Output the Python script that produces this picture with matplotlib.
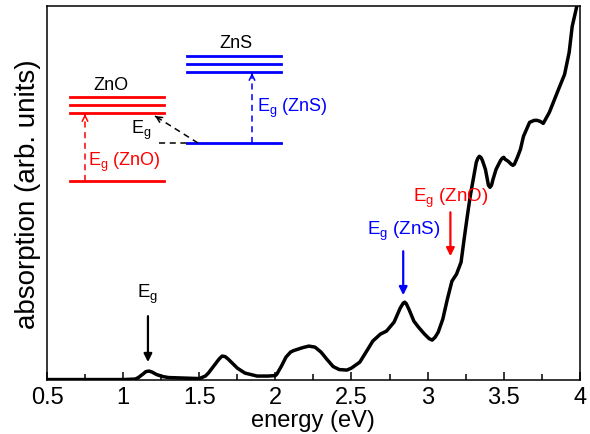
import numpy as np
import matplotlib
matplotlib.use('Agg')
import matplotlib.pyplot as plt
from matplotlib.ticker import MultipleLocator

plt.rcParams['font.family'] = ['Liberation Sans', 'DejaVu Sans']
plt.rcParams['mathtext.fontset'] = 'custom'
plt.rcParams['mathtext.rm'] = 'Liberation Sans'
plt.rcParams['mathtext.it'] = 'Liberation Sans'

# absorption spectrum (arb. units)
energy = [0.50, 0.80, 1.00, 1.08, 1.10, 1.13, 1.15, 1.17, 1.19, 1.22, 1.26,
          1.30, 1.40, 1.50,
          1.54, 1.56, 1.60, 1.63, 1.65, 1.67, 1.69, 1.72, 1.75, 1.80, 1.88,
          1.95, 2.00,
          2.01, 2.04, 2.07, 2.10, 2.12, 2.15, 2.18, 2.22, 2.26, 2.30, 2.34,
          2.38, 2.42, 2.47,
          2.50, 2.555, 2.60, 2.64, 2.69, 2.73, 2.78, 2.82, 2.84, 2.85, 2.86,
          2.88, 2.91, 2.94, 2.98, 3.01, 3.03, 3.05, 3.07, 3.10, 3.13, 3.16,
          3.19, 3.22, 3.24, 3.26, 3.28, 3.30, 3.32, 3.33, 3.34, 3.35, 3.36,
          3.38, 3.40, 3.41, 3.42, 3.43, 3.45, 3.48, 3.49, 3.50, 3.51, 3.53,
          3.55, 3.56, 3.57, 3.59, 3.61, 3.63, 3.67, 3.70, 3.72, 3.74, 3.76,
          3.80, 3.86, 3.90, 3.93, 3.95, 3.98, 4.00]
absorb = [0.5, 0.5, 0.5, 1, 2.5, 6, 8.5, 9, 8, 5.5, 3.5,
          2.5, 2, 1.5,
          4, 7, 15, 21, 24, 23.5, 21, 16.5, 12, 7, 4,
          4, 4.5,
          6, 14, 23, 28, 29.5, 31, 32.5, 34, 33, 28, 20.5,
          13.5, 10.5, 10,
          12, 18, 29, 39, 46, 49, 58, 72, 77, 78, 76.5,
          70, 59, 53, 46, 41.5, 40, 43, 48, 61, 81, 99,
          106, 118, 141, 163, 184, 201, 218, 222, 224, 223, 220,
          211, 195, 193, 195, 201, 211, 220, 222, 223, 221, 219,
          216, 215, 216, 223, 231, 244, 258, 260, 260, 259, 257,
          268, 291, 306, 328, 354, 374, 389]

# band-gap arrows on the spectrum
gap_energy = [1.163, 2.84, 3.15]
gap_label = [r'E$_\mathrm{g}$', r'E$_\mathrm{g}$ (ZnS)', r'E$_\mathrm{g}$ (ZnO)']
gap_color = ['black', 'blue', 'red']
gap_tip = [18, 85, 124]
gap_tail = [64, 129, 168]
gap_text = [75, 138, 171]

fig = plt.figure(figsize=(5.9, 4.35), dpi=100)
ax = fig.add_axes([0.0797, 0.124, 0.903, 0.861])
ax.plot(energy, absorb, color='black', lw=2.5, solid_joinstyle='round',
        solid_capstyle='round')
ax.set_xlim(0.5, 4)
ax.set_ylim(0, 375)
ax.set_yticks([])
ax.xaxis.set_major_locator(MultipleLocator(0.5))
ax.xaxis.set_minor_locator(MultipleLocator(0.25))
ax.xaxis.set_major_formatter(plt.FuncFormatter(lambda v, p: f'{v:g}'))
ax.tick_params(axis='x', which='both', direction='in', labelsize=17,
               width=1.1, pad=4)
ax.tick_params(axis='x', which='major', length=6)
ax.tick_params(axis='x', which='minor', length=4)
for s in ax.spines.values():
    s.set_linewidth(1.1)
ax.set_xlabel('energy (eV)', fontsize=17, labelpad=1)
ax.set_ylabel('absorption (arb. units)', fontsize=20, labelpad=4)

for e, lab, col, tip, tail, ty in zip(gap_energy, gap_label, gap_color,
                                      gap_tip, gap_tail, gap_text):
    ax.annotate('', xy=(e, tip), xytext=(e, tail),
                arrowprops=dict(arrowstyle='-|>', color=col, lw=1.6,
                                mutation_scale=12, shrinkA=0, shrinkB=0))
    ax.text(e, ty, lab, color=col, fontsize=13.5, ha='center', va='bottom')

# band-alignment sketch, drawn in figure pixel coordinates
ov = fig.add_axes([0, 0, 1, 1])
ov.set_xlim(0, 590)
ov.set_ylim(435, 0)
ov.axis('off')

zno_x = (70, 164)
zno_cb = [98, 106, 114]
zno_vb = 182
zns_x = (187, 281)
zns_cb = [57, 65, 73]
zns_vb = 144

for y in zno_cb + [zno_vb]:
    ov.plot(zno_x, [y, y], color='red', lw=2)
for y in zns_cb + [zns_vb]:
    ov.plot(zns_x, [y, y], color='blue', lw=2)


def dashed_arrow(x0, y0, x1, y1, col):
    ov.plot([x0, x1], [y0, y1], color=col, lw=1.1, ls=(0, (4, 3)))
    ov.annotate('', xy=(x1, y1),
                xytext=(x1 + (x0 - x1) * 0.01, y1 + (y0 - y1) * 0.01),
                arrowprops=dict(arrowstyle='->', color=col, lw=1.1,
                                mutation_scale=10, shrinkA=0, shrinkB=0))


dashed_arrow(85, zno_vb, 85, zno_cb[-1] + 1, 'red')
dashed_arrow(252, zns_vb, 252, zns_cb[-1] + 1, 'blue')
ov.plot([159, 187], [zns_vb, zns_vb], color='black', lw=1.1, ls=(0, (4, 3)))
dashed_arrow(198, zns_vb, 155, 117, 'black')

ov.text(111, 86, 'ZnO', fontsize=13, ha='center', va='center')
ov.text(235.5, 44, 'ZnS', fontsize=13, ha='center', va='center')
ov.text(88, 162, r'E$_\mathrm{g}$ (ZnO)', color='red', fontsize=13,
        ha='left', va='center')
ov.text(257, 108, r'E$_\mathrm{g}$ (ZnS)', color='blue', fontsize=13,
        ha='left', va='center')
ov.text(131, 130, r'E$_\mathrm{g}$', color='black', fontsize=13,
        ha='left', va='center')

fig.savefig('out.png', dpi=100)
